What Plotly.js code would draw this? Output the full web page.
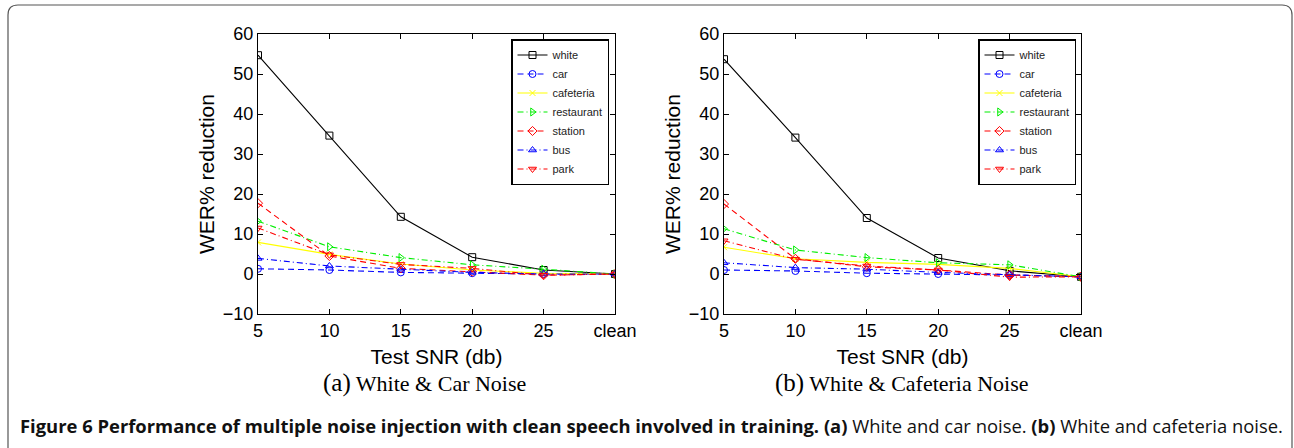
<!DOCTYPE html>
<html>
<head>
<meta charset="utf-8">
<script src="https://cdn.plot.ly/plotly-3.0.1.min.js"></script>
<style>html,body{margin:0;padding:0;background:#fff;}#chart{width:1294px;height:448px;}</style>
</head>
<body>
<div id="chart"></div>
<script>
// ---- data ----
const categories = ['5', '10', '15', '20', '25', 'clean'];
const seriesNames = ['white', 'car', 'cafeteria', 'restaurant', 'station', 'bus', 'park'];

// (a) White & Car Noise
const whiteA      = [54.7, 34.6, 14.3, 4.2, 1.0, 0.0];
const carA        = [1.3, 1.0, 0.4, 0.2, 0.0, 0.0];
const cafeteriaA  = [7.9, 4.9, 2.5, 1.0, 0.2, 0.0];
const restaurantA = [13.2, 6.8, 4.1, 2.3, 1.2, 0.0];
const stationA    = [17.7, 4.5, 1.4, 0.6, -0.3, 0.0];
const busA        = [3.9, 2.0, 1.2, 0.4, 0.0, 0.0];
const parkA       = [11.5, 4.8, 2.4, 1.4, -0.3, 0.0];

// (b) White & Cafeteria Noise
const whiteB      = [53.7, 34.1, 14.0, 4.0, 0.8, -0.7];
const carB        = [1.0, 0.75, 0.2, 0.0, -0.25, -0.7];
const cafeteriaB  = [6.7, 3.8, 2.9, 2.4, 1.4, -0.7];
const restaurantB = [11.3, 6.0, 4.1, 2.8, 2.3, -0.7];
const stationB    = [17.5, 3.8, 1.8, 1.0, -0.25, -0.7];
const busB        = [2.8, 1.6, 1.2, 0.4, -0.2, -0.7];
const parkB       = [8.3, 3.7, 2.0, 1.0, -0.8, -0.7];

const yTicks = [-10, 0, 10, 20, 30, 40, 50, 60];

// ---- styles ----
const styles = {
  white:      {color: '#000000', dash: 'solid',            symbol: 'square-open'},
  car:        {color: '#0000ff', dash: '6px,4px',          symbol: 'circle-open'},
  cafeteria:  {color: '#ffff00', dash: 'solid',            symbol: 'x-thin-open'},
  restaurant: {color: '#00ee00', dash: '6px,3px,1px,3px',  symbol: 'triangle-right-open'},
  station:    {color: '#ff0000', dash: '6px,4px',          symbol: 'diamond-open'},
  bus:        {color: '#0000ff', dash: '6px,3px,1px,3px',  symbol: 'triangle-up-open'},
  park:       {color: '#ff0000', dash: '6px,3px,1px,3px',  symbol: 'triangle-down-open'}
};

const setA = [whiteA, carA, cafeteriaA, restaurantA, stationA, busA, parkA];
const setB = [whiteB, carB, cafeteriaB, restaurantB, stationB, busB, parkB];

const W = 1294, H = 448;
const px = v => v / W;
const py = v => 1 - v / H;

function makeTraces(set, xa, ya, leg) {
  return seriesNames.map((name, i) => {
    const s = styles[name];
    return {
      type: 'scatter', mode: 'lines+markers', name: name,
      x: categories, y: set[i], xaxis: xa, yaxis: ya, legend: leg,
      line: {color: s.color, width: 1.1, dash: s.dash},
      marker: {symbol: s.symbol, size: name === 'cafeteria' ? 6 : 7, color: s.color,
               line: {color: s.color, width: 1}},
      hoverinfo: 'x+y+name'
    };
  });
}

const traces = makeTraces(setA, 'x', 'y', 'legend').concat(makeTraces(setB, 'x2', 'y2', 'legend2'));

const tickFont = {family: 'Liberation Sans, Arial, sans-serif', size: 18, color: '#000'};
const titleFont = {family: 'Liberation Sans, Arial, sans-serif', size: 21, color: '#000'};

function xAxis(dom, anchor) {
  return {
    domain: dom, anchor: anchor, type: 'category', range: [0, 5],
    tickmode: 'array', tickvals: categories, ticktext: categories,
    ticks: 'inside', ticklen: 5, tickcolor: '#000', tickwidth: 1,
    showline: true, linecolor: '#000', linewidth: 1, mirror: 'ticks',
    showgrid: false, zeroline: false, tickfont: tickFont,
    title: {text: 'Test SNR (db)', font: titleFont, standoff: 9}
  };
}
function yAxis(anchor) {
  return {
    domain: [py(314), py(34)], anchor: anchor, range: [-10, 60],
    tickmode: 'array', tickvals: yTicks,
    ticktext: yTicks.map(v => v < 0 ? '\u2212' + Math.abs(v) : String(v)),
    ticks: 'inside', ticklen: 5, tickcolor: '#000', tickwidth: 1,
    showline: true, linecolor: '#000', linewidth: 1, mirror: 'ticks',
    showgrid: false, zeroline: false, tickfont: tickFont,
    title: {text: 'WER% reduction', font: titleFont, standoff: 2}
  };
}

const legendBase = {
  bgcolor: '#fff', bordercolor: '#000', borderwidth: 1.5,
  font: {family: 'Liberation Sans, Arial, sans-serif', size: 11, color: '#222'},
  xanchor: 'right', yanchor: 'top', y: py(39), itemwidth: 30,
  tracegroupgap: 0
};

const r = 10;
const fx1 = 8, fx2 = 1292, fy1 = 5, fy2 = 470;
const framePath =
  'M ' + px(fx1) + ',' + py(fy2) +
  ' L ' + px(fx1) + ',' + py(fy1 + r) +
  ' Q ' + px(fx1) + ',' + py(fy1) + ' ' + px(fx1 + r) + ',' + py(fy1) +
  ' L ' + px(fx2 - r) + ',' + py(fy1) +
  ' Q ' + px(fx2) + ',' + py(fy1) + ' ' + px(fx2) + ',' + py(fy1 + r) +
  ' L ' + px(fx2) + ',' + py(fy2);

const subFont = {family: 'Liberation Serif, Times New Roman, serif', size: 22, color: '#000'};

const layout = {
  width: W, height: H,
  margin: {l: 0, r: 0, t: 0, b: 0},
  paper_bgcolor: '#fff', plot_bgcolor: '#fff',
  showlegend: true,
  xaxis: xAxis([px(258), px(615)], 'y'),
  yaxis: yAxis('x'),
  xaxis2: xAxis([px(724), px(1081)], 'y2'),
  yaxis2: yAxis('x2'),
  legend: Object.assign({}, legendBase, {x: px(609)}),
  legend2: Object.assign({}, legendBase, {x: px(1076)}),
  shapes: [{type: 'path', xref: 'paper', yref: 'paper', path: framePath,
            line: {color: '#555', width: 1.2}}],
  annotations: [
    {xref: 'paper', yref: 'paper', x: px(424), y: py(383), xanchor: 'center', yanchor: 'middle',
     showarrow: false, text: '<span style="font-size:25px">(a)</span> White &amp; Car Noise',
     font: subFont},
    {xref: 'paper', yref: 'paper', x: px(902), y: py(383), xanchor: 'center', yanchor: 'middle',
     showarrow: false, text: '<span style="font-size:25px">(b)</span> White &amp; Cafeteria Noise',
     font: subFont},
    {xref: 'paper', yref: 'paper', x: px(18), y: py(425), xanchor: 'left', yanchor: 'middle',
     showarrow: false,
     text: '<b>Figure 6 Performance of multiple noise injection with clean speech involved in training. (a)</b> White and car noise. <b>(b)</b> White and cafeteria noise.',
     font: {family: 'Open Sans, Noto Sans, sans-serif', size: 18.4, color: '#111'}}
  ]
};

Plotly.newPlot('chart', traces, layout, {displayModeBar: false, responsive: false});
</script>
</body>
</html>
